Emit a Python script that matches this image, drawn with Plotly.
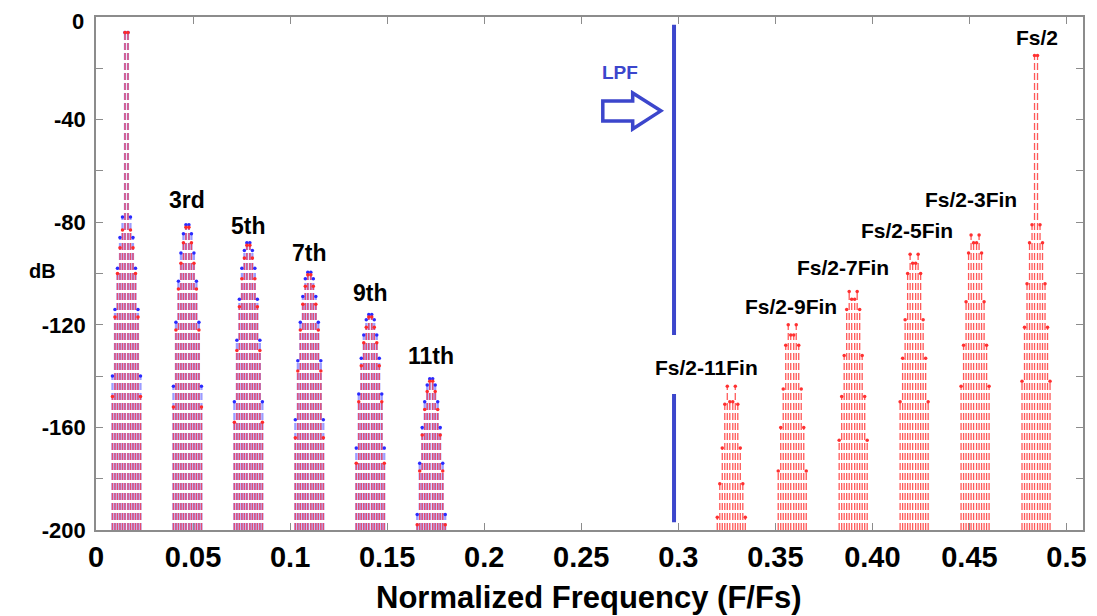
import plotly.graph_objects as go

# ---------------- data ----------------
FLOOR_DB = -200
# frequency offsets of the stems on each side of a cluster centre (F/Fs)
STEM_OFFSETS = [0.00077, 0.00206, 0.00335, 0.00464, 0.00593, 0.00722]

# odd harmonics (blue = one spectrum, red = other), cluster centres
HARM_NAMES = ["1st", "3rd", "5th", "7th", "9th", "11th"]
HARM_CENTERS = [0.0157, 0.0471, 0.0785, 0.1099, 0.1413, 0.1727]
HARM_BLUE = [
    [-6, -78, -86, -98, -114, -140],
    [-81, -84.5, -92, -103, -119, -144],
    [-88, -91, -98, -110, -126, -150],
    [-99.5, -102, -109, -119, -134, -157],
    [-116, -118, -124, -133, -147, -168],
    [-141, -143.5, -150, -160, -174, -194],
]
HARM_RED = [
    [-6, -83, -90, -100, -117, -148],
    [-82, -88, -96, -106, -122, -152],
    [-89, -94, -102, -113, -130, -158],
    [-100.5, -105, -112, -122, -138, -164],
    [-117, -121, -127, -136, -150, -174],
    [-142, -146, -153, -163, -177, -198],
]

# images near Fs/2
IMAGE_NAMES = ["Fs/2-11Fin", "Fs/2-9Fin", "Fs/2-7Fin", "Fs/2-5Fin", "Fs/2-3Fin", "Fs/2"]
IMAGE_CENTERS = [0.3273, 0.3587, 0.3901, 0.4215, 0.4529, 0.4843]
IMAGE_RED = [
    [-150, -144, -151, -168, -182, -195],
    [-124, -120, -128, -145, -160, -177],
    [-110, -107, -114, -132, -148, -165],
    [-96, -92.5, -100, -118, -133, -150],
    [-88, -85, -92, -111, -128, -144],
    [-15, -81, -88, -104, -121, -142],
]

LPF_FREQ = 0.2978

X_TICKS = [0, 0.05, 0.1, 0.15, 0.2, 0.25, 0.3, 0.35, 0.4, 0.45, 0.5]
X_TICKTEXT = ["0", "0.05", "0.1", "0.15", "0.2", "0.25", "0.3", "0.35", "0.40", "0.45", "0.5"]
Y_TICKS = [-200, -160, -120, -80, -40, 0]
Y_TICKTEXT = ["-200", "-160", "-120", "-80", "-40", "0"]

FONT = "Liberation Sans, Arial, sans-serif"


def stems(centers, levels):
    xs, ys, mx, my = [], [], [], []
    for c, lev in zip(centers, levels):
        for off, v in zip(STEM_OFFSETS, lev):
            for s in (-1, 1):
                x = c + s * off
                xs += [x, x, None]
                ys += [FLOOR_DB, v, None]
                mx.append(x)
                my.append(v)
    return xs, ys, mx, my


fig = go.Figure()

bx, by, bmx, bmy = stems(HARM_CENTERS, HARM_BLUE)
rx, ry, rmx, rmy = stems(HARM_CENTERS, HARM_RED)
ix, iy, imx, imy = stems(IMAGE_CENTERS, IMAGE_RED)

BLUE_LINE = "rgba(90,90,255,0.6)"
RED_LINE = "rgba(255,50,60,0.75)"

fig.add_trace(go.Scatter(x=bx, y=by, mode="lines", connectgaps=False,
                         line=dict(color=BLUE_LINE, width=2.2, dash="7px,3px"),
                         hoverinfo="skip", showlegend=False))
fig.add_trace(go.Scatter(x=bmx, y=bmy, mode="markers",
                         marker=dict(color="#2a2aff", size=3.5),
                         hoverinfo="skip", showlegend=False))
fig.add_trace(go.Scatter(x=rx, y=ry, mode="lines", connectgaps=False,
                         line=dict(color=RED_LINE, width=1.4, dash="7px,3px"),
                         hoverinfo="skip", showlegend=False))
fig.add_trace(go.Scatter(x=rmx, y=rmy, mode="markers",
                         marker=dict(color="#ff2a2a", size=3.5),
                         hoverinfo="skip", showlegend=False))
fig.add_trace(go.Scatter(x=ix, y=iy, mode="lines", connectgaps=False,
                         line=dict(color="rgba(255,60,60,0.85)", width=1.3, dash="7px,3px"),
                         hoverinfo="skip", showlegend=False))
fig.add_trace(go.Scatter(x=imx, y=imy, mode="markers",
                         marker=dict(color="#ff3030", size=3.5),
                         hoverinfo="skip", showlegend=False))

LPF_BLUE = "#3c46cc"
# LPF boundary line (interrupted behind the lowest image label)
fig.add_shape(type="line", xref="x", yref="y", x0=LPF_FREQ, x1=LPF_FREQ, y0=-124, y1=-3,
              line=dict(color=LPF_BLUE, width=4))
fig.add_shape(type="line", xref="x", yref="y", x0=LPF_FREQ, x1=LPF_FREQ, y0=-197, y1=-147,
              line=dict(color=LPF_BLUE, width=4))
# hollow arrow
fig.add_shape(type="path", xref="x", yref="y",
              path="M 0.2611,-32.7 L 0.2765,-32.7 L 0.2765,-29.6 L 0.2910,-36.6 "
                   "L 0.2765,-43.7 L 0.2765,-40.5 L 0.2611,-40.5 Z",
              line=dict(color=LPF_BLUE, width=3.5), fillcolor="rgba(0,0,0,0)")

HARM_FONT = dict(family=FONT, size=23, color="black", weight="bold")
IMG_FONT = dict(family=FONT, size=21, color="black", weight="bold")
harm_label_pos = [None, (0.0471, -71.3), (0.0785, -81.5), (0.1099, -92), (0.1413, -107.6), (0.1727, -132)]
for name, pos in zip(HARM_NAMES, harm_label_pos):
    if pos is None:
        continue
    fig.add_annotation(x=pos[0], y=pos[1], text=name, showarrow=False, font=HARM_FONT,
                       xanchor="center", yanchor="middle")
image_label_pos = [(0.3147, -136.8), (0.3580, -112.7), (0.3848, -97.5), (0.4178, -83.4),
                   (0.4508, -71), (0.4848, -7.8)]
for name, pos in zip(IMAGE_NAMES, image_label_pos):
    fig.add_annotation(x=pos[0], y=pos[1], text=name, showarrow=False, font=IMG_FONT,
                       xanchor="center", yanchor="middle")
fig.add_annotation(x=0.2698, y=-21.8, text="LPF", showarrow=False,
                   font=dict(family=FONT, size=19, color=LPF_BLUE, weight="bold"))

# axis titles (placed like the reference)
fig.add_annotation(xref="paper", yref="paper", x=-0.054, y=0.504, text="dB", showarrow=False,
                   xanchor="center", yanchor="middle",
                   font=dict(family=FONT, size=20, color="black", weight="bold"))
fig.add_annotation(xref="paper", yref="paper", x=0.499, y=-0.131, text="Normalized Frequency (F/Fs)",
                   showarrow=False, xanchor="center", yanchor="middle",
                   font=dict(family=FONT, size=31, color="black", weight="bold"))

Y_TICKFONT = dict(family=FONT, size=22, color="black", weight="bold")
# the top tick label sits at the very edge of the figure; draw it as a label kept inside
y_ticktext_shown = [t if v != 0 else "" for v, t in zip(Y_TICKS, Y_TICKTEXT)]
fig.add_annotation(xref="paper", yref="paper", x=-0.0115, y=1, yshift=9,
                   text=Y_TICKTEXT[Y_TICKS.index(0)], borderpad=0,
                   showarrow=False, xanchor="right", yanchor="top", font=Y_TICKFONT)

AX_COLOR = "#8c8c8c"
fig.update_xaxes(range=[0, 0.5085], tickvals=X_TICKS, ticktext=X_TICKTEXT, automargin=False,
                 ticks="inside", ticklen=7, tickcolor=AX_COLOR, showline=True, linecolor=AX_COLOR,
                 linewidth=1.5, mirror="ticks", showgrid=False, zeroline=False,
                 ticklabelstandoff=0,
                 tickfont=dict(family=FONT, size=29, color="black", weight="bold"))
fig.update_yaxes(range=[-200, 0], tickvals=Y_TICKS, ticktext=y_ticktext_shown, automargin=False,
                 ticks="inside", ticklen=7, tickcolor=AX_COLOR, showline=True, linecolor=AX_COLOR,
                 linewidth=1.5, mirror="ticks", showgrid=False, zeroline=False,
                 minor=dict(dtick=20, ticks="inside", ticklen=7, tickcolor=AX_COLOR),
                 ticklabelstandoff=4,
                 tickfont=Y_TICKFONT)

# the page body adds an 8px margin, so the figure is 8px smaller and offset accordingly
fig.update_layout(width=1089, height=608, plot_bgcolor="white", paper_bgcolor="white",
                  margin=dict(l=88, r=14, t=9, b=86, autoexpand=False), showlegend=False)

fig.write_html("out.html")
